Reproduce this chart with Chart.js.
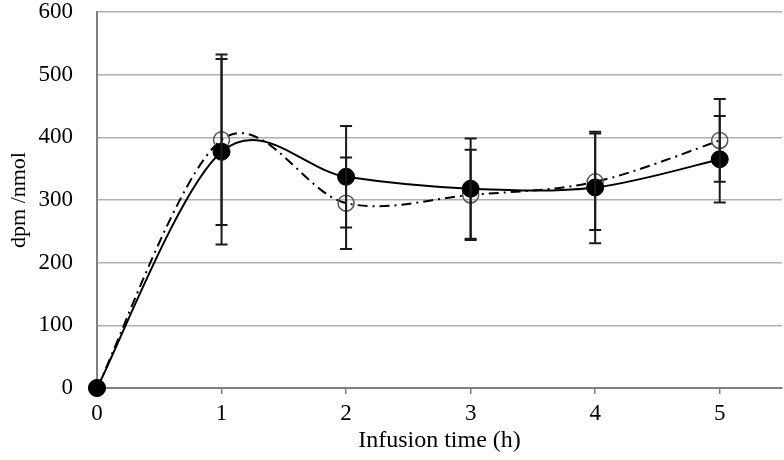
<!DOCTYPE html>
<html>
<head>
<meta charset="utf-8">
<script src="https://cdn.jsdelivr.net/npm/chart.js@4.4.1/dist/chart.umd.min.js"></script>
<style>
  html, body { margin: 0; padding: 0; background: #ffffff; }
  #wrap { width: 784px; height: 460px; }
</style>
</head>
<body>
<div id="wrap"><canvas id="c" width="784" height="460"></canvas></div>
<script>
// ---- data ----
const times = [0, 1, 2, 3, 4, 5];
const filledMean = [0, 377, 337, 318, 320, 365];
const filledErr  = [0, 148, 81, 80, 89, 69];
const openMean   = [0, 396, 295, 308, 329, 395];
const openErr    = [0, 136, 73, 72, 77, 66];
const xTicks = [0, 1, 2, 3, 4, 5];
const yTicks = [0, 100, 200, 300, 400, 500, 600];
const xTitle = 'Infusion time (h)';
const yTitle = 'dpm /nmol';

const toPoints = (xs, ys) => xs.map((x, i) => ({ x: x, y: ys[i] }));

// Spreadsheet-style smoothing (uniform Catmull-Rom) applied to the
// point elements that Chart.js positioned on its own scales.
const smoothCurve = {
  id: 'smoothCurve',
  beforeDatasetsDraw(chart) {
    chart.getSortedVisibleDatasetMetas().forEach(meta => {
      const line = meta.dataset;
      const pts = meta.data;
      if (!line || !pts.length) return;
      line.updateControlPoints(chart.chartArea, 'x');
      for (let i = 0; i < pts.length; i++) {
        const p = pts[i];
        const prev = pts[i - 1] || p;
        const next = pts[i + 1] || p;
        const dx = (next.x - prev.x) / 6;
        const dy = (next.y - prev.y) / 6;
        p.cp1x = p.x - dx; p.cp1y = p.y - dy;
        p.cp2x = p.x + dx; p.cp2y = p.y + dy;
      }
    });
  }
};

const errorBars = {
  id: 'errorBars',
  afterDatasetsDraw(chart) {
    const ctx = chart.ctx;
    const xs = chart.scales.x, ys = chart.scales.y;
    chart.data.datasets.forEach(ds => {
      const errs = ds.errors;
      if (!errs) return;
      ds.data.forEach((p, i) => {
        const e = errs[i];
        if (!e) return;
        const px = xs.getPixelForValue(p.x);
        const top = ys.getPixelForValue(p.y + e);
        const bot = ys.getPixelForValue(p.y - e);
        ctx.save();
        ctx.strokeStyle = '#1a1a1a';
        ctx.lineWidth = 2;
        ctx.beginPath();
        ctx.moveTo(px, top); ctx.lineTo(px, bot);
        ctx.moveTo(px - 6, top); ctx.lineTo(px + 6, top);
        ctx.moveTo(px - 6, bot); ctx.lineTo(px + 6, bot);
        ctx.stroke();
        ctx.restore();
      });
    });
  }
};

const font = 'Liberation Serif';

new Chart(document.getElementById('c'), {
  type: 'line',
  data: {
    datasets: [
      {
        label: 'filled',
        data: toPoints(times, filledMean),
        errors: filledErr,
        borderColor: '#000000',
        borderWidth: 2,
        tension: 0.4,
        pointRadius: 8.5,
        pointBackgroundColor: '#000000',
        pointBorderColor: '#000000',
        pointBorderWidth: 1,
        clip: false,
        order: 0
      },
      {
        label: 'open',
        data: toPoints(times, openMean),
        errors: openErr,
        borderColor: '#000000',
        borderWidth: 2,
        borderDash: [10, 5, 2, 5],
        tension: 0.4,
        pointRadius: 8,
        pointBackgroundColor: 'rgba(255,255,255,0)',
        pointBorderColor: '#555555',
        pointBorderWidth: 1.5,
        clip: false,
        order: 1
      }
    ]
  },
  options: {
    responsive: false,
    animation: false,
    layout: { autoPadding: false, padding: { left: 0, right: 2, top: 12, bottom: 0 } },
    plugins: { legend: { display: false }, tooltip: { enabled: false } },
    scales: {
      x: {
        type: 'linear',
        min: 0,
        max: 5.5,
        afterBuildTicks(scale) { scale.ticks = xTicks.map(v => ({ value: v })); },
        afterFit(scale) { scale.height = 72; scale.paddingLeft = 0; scale.paddingRight = 0; },
        grid: { drawOnChartArea: false, drawTicks: true, tickLength: 6, color: '#808080', lineWidth: 1.5 },
        border: { display: true, color: '#808080', width: 2 },
        ticks: { color: '#000', font: { family: font, size: 23 }, padding: 6, maxRotation: 0, autoSkip: false },
        title: { display: true, text: xTitle, color: '#000', font: { family: font, size: 24 }, padding: { top: 0, bottom: 5 } }
      },
      y: {
        type: 'linear',
        min: 0,
        max: 600,
        afterBuildTicks(scale) { scale.ticks = yTicks.map(v => ({ value: v })); },
        afterFit(scale) { scale.width = 97; scale.paddingTop = 0; scale.paddingBottom = 0; },
        grid: { drawTicks: false, color: '#b0b0b0', lineWidth: 1.5 },
        border: { display: true, color: '#808080', width: 2 },
        ticks: { color: '#000', font: { family: font, size: 23 }, padding: 24 },
        title: { display: true, text: yTitle, color: '#000', font: { family: font, size: 22 }, padding: { top: 6, bottom: 0 } }
      }
    }
  },
  plugins: [smoothCurve, errorBars]
});
</script>
</body>
</html>
